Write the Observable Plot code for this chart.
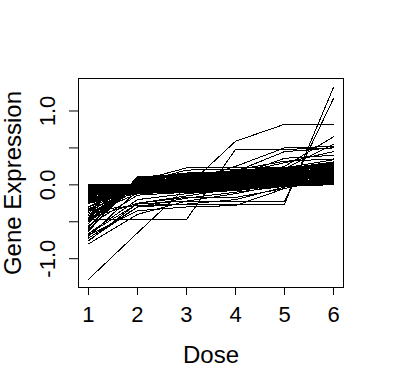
<!DOCTYPE html>
<html>
<head>
<meta charset="utf-8">
<script src="https://cdn.jsdelivr.net/npm/d3@7"></script>
<script src="https://cdn.jsdelivr.net/npm/@observablehq/plot@0.6"></script>
<style>
  html, body { margin: 0; padding: 0; background: #fff; }
  #chart { width: 396px; height: 384px; }
</style>
</head>
<body>
<div id="chart"></div>
<script>
const doses = [1, 2, 3, 4, 5, 6];
const xTicks = [1, 2, 3, 4, 5, 6];
const yTicks = [-1, -0.5, 0, 0.5, 1];
const yLabelValues = [-1, 0, 1];
const yLabelTexts = ["-1.0", "0.0", "1.0"];
const xTitle = "Dose";
const yTitle = "Gene Expression";

// genes starting just below zero (dense band)
const bandGenes = [
  [0.00, 0.00, 0.00, 0.02, 0.03, 0.05],
  [-0.01, 0.00, 0.02, 0.04, 0.06, 0.10],
  [-0.02, -0.01, 0.01, 0.05, 0.07, 0.14],
  [-0.03, 0.00, 0.03, 0.06, 0.09, 0.17],
  [-0.04, -0.02, 0.00, 0.02, 0.04, 0.07],
  [-0.05, 0.00, 0.04, 0.07, 0.11, 0.20],
  [-0.06, -0.03, -0.01, 0.03, 0.05, 0.08],
  [-0.07, 0.01, 0.02, 0.05, 0.08, 0.13],
  [-0.08, -0.04, 0.00, 0.04, 0.10, 0.19],
  [-0.09, 0.00, 0.05, 0.08, 0.12, 0.22],
  [-0.10, -0.05, -0.02, 0.01, 0.02, 0.04],
  [-0.11, 0.01, 0.03, 0.06, 0.09, 0.15],
  [-0.12, -0.03, 0.01, 0.05, 0.13, 0.24],
  [-0.13, 0.02, 0.06, 0.09, 0.11, 0.16],
  [-0.14, -0.06, -0.03, 0.00, 0.03, 0.06],
  [-0.15, 0.00, 0.02, 0.07, 0.14, 0.25],
  [-0.16, -0.02, 0.04, 0.10, 0.12, 0.18],
  [-0.17, 0.02, 0.07, 0.11, 0.15, 0.21],
  [-0.18, -0.07, -0.04, -0.01, 0.01, 0.03],
  [-0.19, 0.01, 0.03, 0.04, 0.08, 0.11],
  [-0.20, -0.04, 0.00, 0.06, 0.16, 0.27],
  [-0.21, 0.03, 0.08, 0.12, 0.17, 0.23],
  [-0.22, -0.08, -0.05, -0.02, 0.02, 0.05],
  [-0.23, 0.00, 0.04, 0.08, 0.10, 0.12],
  [-0.24, 0.03, 0.09, 0.13, 0.18, 0.26],
  [-0.25, -0.09, -0.06, 0.00, 0.04, 0.09],
  [-0.02, 0.00, 0.05, 0.09, 0.15, 0.23],
  [-0.04, 0.00, 0.01, 0.02, 0.06, 0.11],
  [-0.06, -0.01, 0.03, 0.07, 0.13, 0.18],
  [-0.08, 0.00, 0.04, 0.06, 0.07, 0.10],
  [-0.10, -0.02, 0.02, 0.08, 0.14, 0.21],
  [-0.12, 0.00, 0.03, 0.05, 0.10, 0.16],
  [-0.14, -0.04, 0.01, 0.04, 0.08, 0.14],
  [-0.16, 0.01, 0.05, 0.10, 0.16, 0.24],
  [-0.18, -0.05, -0.02, 0.02, 0.06, 0.10],
  [-0.20, 0.02, 0.06, 0.09, 0.13, 0.19],
  [-0.22, -0.03, 0.02, 0.07, 0.12, 0.20],
  [-0.24, -0.01, 0.04, 0.11, 0.19, 0.28],
  [-0.05, -0.01, 0.00, 0.03, 0.04, 0.06],
  [-0.15, -0.06, -0.03, 0.01, 0.05, 0.12],
  [-0.20, -0.10, -0.10, -0.08, 0.00, 0.01],
  [-0.12, -0.08, -0.09, -0.07, -0.01, 0.00],
  [-0.05, -0.06, -0.07, -0.05, 0.00, 0.02],
  [-0.22, -0.11, -0.10, -0.06, 0.01, 0.03],
  [-0.09, -0.07, -0.06, -0.04, 0.00, 0.01],
  [-0.17, -0.09, -0.08, -0.05, 0.02, 0.04],
  [-0.03, -0.04, -0.05, -0.03, 0.00, 0.00],
  [-0.25, -0.12, -0.09, -0.07, 0.00, 0.02],
  [-0.14, -0.10, -0.07, -0.02, 0.01, 0.02],
  [-0.07, -0.05, -0.04, -0.02, 0.01, 0.03],
  [-0.19, -0.08, -0.05, -0.03, 0.02, 0.05],
  [-0.11, -0.06, -0.04, 0.00, 0.03, 0.04],
  [-0.01, -0.03, -0.02, 0.00, 0.00, 0.01],
  [-0.23, -0.07, -0.03, 0.01, 0.03, 0.06]
];

// genes starting lower and rising into the band
const lowStartGenes = [
  [-0.30, 0.04, 0.08, 0.12, 0.16, 0.22],
  [-0.32, -0.10, -0.06, -0.01, 0.03, 0.08],
  [-0.34, 0.05, 0.10, 0.14, 0.18, 0.25],
  [-0.36, -0.02, 0.03, 0.07, 0.12, 0.17],
  [-0.38, 0.06, 0.09, 0.13, 0.20, 0.30],
  [-0.40, -0.12, -0.08, -0.03, 0.02, 0.07],
  [-0.42, 0.02, 0.05, 0.10, 0.14, 0.20],
  [-0.44, 0.07, 0.12, 0.15, 0.19, 0.24],
  [-0.46, -0.06, -0.02, 0.04, 0.09, 0.15],
  [-0.48, 0.07, 0.11, 0.14, 0.21, 0.29],
  [-0.50, 0.00, 0.04, 0.08, 0.11, 0.18],
  [-0.52, 0.08, 0.13, 0.16, 0.20, 0.26],
  [-0.55, -0.14, -0.10, -0.04, 0.03, 0.10],
  [-0.58, 0.09, 0.14, 0.18, 0.22, 0.31],
  [-0.60, 0.04, 0.07, 0.11, 0.15, 0.22],
  [-0.63, 0.10, 0.15, 0.19, 0.23, 0.34],
  [-0.66, -0.20, -0.12, -0.06, 0.02, 0.09],
  [-0.70, -0.08, 0.00, 0.06, 0.12, 0.19],
  [-0.72, -0.30, -0.18, -0.10, -0.02, 0.06],
  [-0.76, -0.25, -0.15, -0.05, 0.05, 0.14],
  [-0.80, -0.40, -0.22, -0.12, 0.01, 0.11],
  [-0.68, -0.35, -0.30, -0.28, -0.05, 0.08],
  [-0.35, -0.28, -0.26, -0.20, -0.03, 0.05],
  [-0.62, 0.11, 0.14, 0.17, 0.21, 0.27],
  [-0.57, 0.09, 0.16, 0.18, 0.22, 0.28],
  [-0.50, 0.08, 0.12, 0.17, 0.20, 0.25],
  [-0.45, 0.06, 0.13, 0.15, 0.19, 0.27]
];

// distinctive genes
const outlierGenes = [
  [-1.28, -0.65, -0.03, 0.59, 0.82, 0.82],
  [-0.47, -0.47, -0.47, 0.48, 0.48, 0.50],
  [-0.75, -0.30, -0.26, -0.26, -0.26, 1.32],
  [-0.66, -0.26, -0.22, -0.22, -0.22, 1.17],
  [-0.45, -0.25, -0.17, -0.17, -0.05, 0.12],
  [-0.45, 0.05, 0.23, 0.23, 0.23, 0.26],
  [-0.30, 0.02, 0.20, 0.21, 0.22, 0.30],
  [-0.35, -0.05, 0.05, 0.25, 0.50, 0.52],
  [-0.25, -0.04, 0.02, 0.18, 0.45, 0.50],
  [-0.20, -0.02, 0.05, 0.12, 0.36, 0.40],
  [-0.15, -0.02, 0.04, 0.10, 0.25, 0.65],
  [-0.40, 0.00, 0.05, 0.12, 0.22, 0.55],
  [-0.22, 0.00, 0.06, 0.15, 0.30, 0.45],
  [-0.30, -0.05, 0.08, 0.20, 0.32, 0.35]
];

const allGenes = [...bandGenes, ...lowStartGenes, ...outlierGenes];
const rows = [];
allGenes.forEach((vals, g) => {
  vals.forEach((v, j) => rows.push({gene: g, dose: doses[j], value: v}));
});

const font = "'Liberation Sans', Arial, sans-serif";

const chart = Plot.plot({
  width: 396,
  height: 384,
  marginLeft: 78,
  marginRight: 53,
  marginTop: 78,
  marginBottom: 97,
  style: {fontFamily: font, background: "#fff", color: "#000"},
  x: {domain: [0.796, 6.204]},
  y: {domain: [-1.39, 1.44]},
  marks: [
    Plot.line(rows, {x: "dose", y: "value", z: "gene", stroke: "#000", strokeWidth: 1, shapeRendering: "crispEdges", clip: true}),
    Plot.frame({stroke: "#000", strokeWidth: 1, shapeRendering: "crispEdges"}),
    Plot.axisX({ticks: xTicks, tickSize: 8, tickPadding: 11, fontSize: 22, label: null, tickFormat: d => String(d)}),
    Plot.axisY({ticks: yTicks, tickSize: 9, tickFormat: () => "", label: null}),
    Plot.text(yLabelValues, {y: d => d, text: (d, i) => yLabelTexts[i], frameAnchor: "left", dx: -39, rotate: -90, lineAnchor: "top", fontSize: 22, textAnchor: "middle"}),
    Plot.text([yTitle], {frameAnchor: "left", dx: -75, rotate: -90, lineAnchor: "top", textAnchor: "middle", fontSize: 24, text: d => d}),
    Plot.text([xTitle], {frameAnchor: "bottom", dy: 58, lineAnchor: "top", fontSize: 24, text: d => d})
  ]
});
document.getElementById("chart").appendChild(chart);
</script>
</body>
</html>
